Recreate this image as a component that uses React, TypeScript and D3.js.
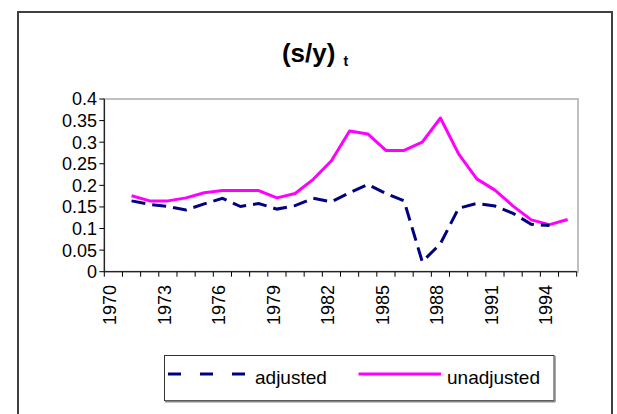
import React from "react";
import * as d3 from "d3";

const years: number[] = [
  1970, 1971, 1972, 1973, 1974, 1975, 1976, 1977, 1978, 1979, 1980, 1981, 1982,
  1983, 1984, 1985, 1986, 1987, 1988, 1989, 1990, 1991, 1992, 1993, 1994, 1995,
];
const labelYears: number[] = [1970, 1973, 1976, 1979, 1982, 1985, 1988, 1991, 1994];
const adjusted: (number | null)[] = [
  null, 0.164, 0.156, 0.151, 0.143, 0.157, 0.17, 0.151, 0.158, 0.145, 0.153, 0.17, 0.162,
  0.183, 0.202, 0.181, 0.164, 0.023, 0.065, 0.147, 0.158, 0.152, 0.135, 0.11, 0.107, null,
];
const unadjusted: (number | null)[] = [
  null, 0.176, 0.164, 0.164, 0.171, 0.183, 0.188, 0.188, 0.188, 0.171, 0.181, 0.214, 0.257,
  0.326, 0.319, 0.281, 0.281, 0.3, 0.356, 0.273, 0.215, 0.189, 0.152, 0.12, 0.109, 0.121,
];
const yTicks: number[] = [0, 0.05, 0.1, 0.15, 0.2, 0.25, 0.3, 0.35, 0.4];
const yTickLabels: string[] = ["0", "0.05", "0.1", "0.15", "0.2", "0.25", "0.3", "0.35", "0.4"];
const seriesNames: string[] = ["adjusted", "unadjusted"];

const FONT = "'Liberation Sans', Arial, sans-serif";

export default function App() {
  const W = 617;
  const H = 414;
  const left = 104.3;
  const right = 576.7;
  const top = 99;
  const bottom = 271.7;

  const x = d3.scaleBand<number>().domain(years).range([left, right]).padding(0);
  const y = d3.scaleLinear().domain([0, 0.4]).range([bottom, top]);
  const cx = (yr: number) => (x(yr) as number) + x.bandwidth() / 2;

  const mk = (vals: (number | null)[]) =>
    d3
      .line<number>()
      .defined((_, i) => vals[i] !== null)
      .x((yr) => cx(yr))
      .y((_, i) => y(vals[i] as number))(years) as string;

  const boundaries = [...years.map((yr) => x(yr) as number), right];

  return (
    <div style={{ position: "fixed", left: 0, top: 0 }}>
      <svg width={W} height={H} style={{ display: "block", background: "#fff" }}>
        <rect x={18} y={12} width={594} height={420} fill="#fff" stroke="#404040" strokeWidth={2} />
        <text x={315} y={62} textAnchor="middle" fontFamily={FONT} fontWeight="bold" fontSize={26}>
          (s/y)
          <tspan fontSize={14} dx={8} dy={4}>t</tspan>
        </text>

        {/* plot area border */}
        <rect x={left} y={top} width={578 - left} height={bottom - top} fill="none" stroke="#bfbfbf" strokeWidth={2} />

        {/* y axis */}
        <line x1={left} x2={left} y1={top} y2={bottom} stroke="#000" strokeWidth={1} />
        {yTicks.map((t, i) => (
          <g key={t}>
            <line x1={left - 5} x2={left} y1={y(t)} y2={y(t)} stroke="#000" />
            <text x={97} y={y(t)} dy="0.36em" textAnchor="end" fontFamily={FONT} fontSize={18}>
              {yTickLabels[i]}
            </text>
          </g>
        ))}

        {/* x axis */}
        <line x1={left} x2={right} y1={bottom} y2={bottom} stroke="#000" strokeWidth={1} />
        {boundaries.map((bx, i) => (
          <line key={i} x1={bx} x2={bx} y1={bottom} y2={bottom + 5} stroke="#000" />
        ))}
        {labelYears.map((yr) => (
          <text
            key={yr}
            transform={`translate(${(x(yr) as number) + 5.5},${285}) rotate(-90)`}
            dy="0.36em"
            textAnchor="end"
            fontFamily={FONT}
            fontSize={18}
          >
            {yr}
          </text>
        ))}

        {/* series */}
        <path d={mk(unadjusted)} fill="none" stroke="#ff00ff" strokeWidth={3} strokeLinejoin="round" />
        <path d={mk(adjusted)} fill="none" stroke="#000080" strokeWidth={3} strokeDasharray="14,7" />

        {/* legend */}
        <rect x={164.5} y={355.5} width={389.5} height={45} fill="#fff" stroke="#333" strokeWidth={1} />
        <line x1={165} x2={555} y1={401.5} y2={401.5} stroke="#888" strokeWidth={2} />
        <line x1={555} x2={555} y1={356} y2={402} stroke="#888" strokeWidth={1.5} />
        <line x1={168} x2={245} y1={374} y2={374} stroke="#000080" strokeWidth={3} strokeDasharray="13,19" />
        <text x={255} y={384} fontFamily={FONT} fontSize={19}>{seriesNames[0]}</text>
        <line x1={358.5} x2={441} y1={374} y2={374} stroke="#ff00ff" strokeWidth={3} />
        <text x={447} y={384} fontFamily={FONT} fontSize={19}>{seriesNames[1]}</text>
      </svg>
    </div>
  );
}
